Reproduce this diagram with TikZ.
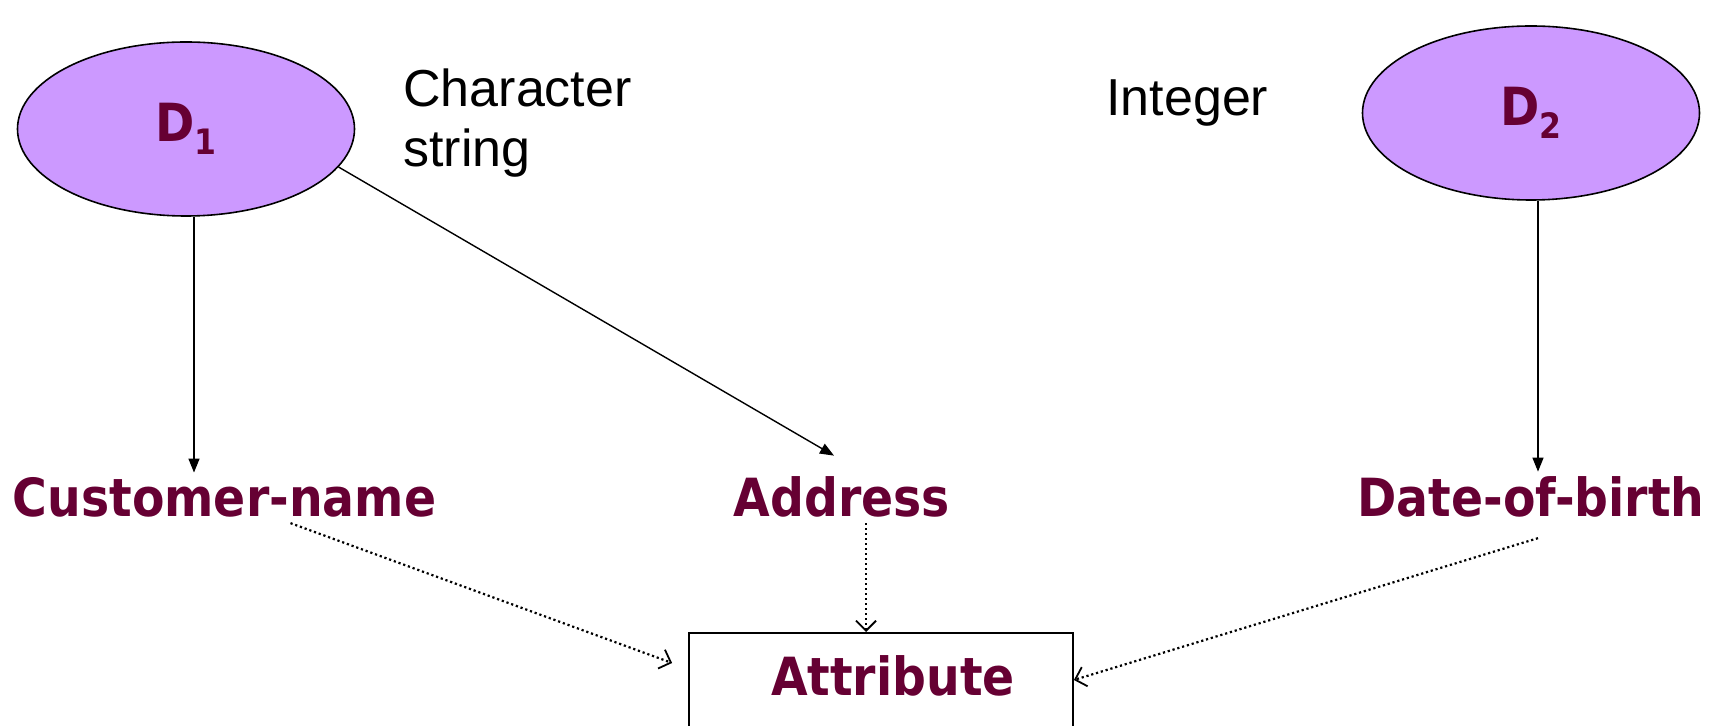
\documentclass[tikz,border=0pt]{standalone}
\usepackage{fontspec}
\setmainfont{Liberation Sans}
\newfontfamily\lblfont{DejaVu Sans Condensed}
\usetikzlibrary{shapes.geometric,arrows.meta}
\definecolor{domfill}{HTML}{CC99FF}
\definecolor{lblcol}{HTML}{660033}

\begin{document}
\begin{tikzpicture}[x=0.5pt, y=-0.5pt,
					domellipse/.style={ellipse, draw=black, line width=0.8pt, fill=domfill, inner sep=0pt,
						minimum width=168.5pt, minimum height=87pt, text=lblcol,
						font=\lblfont\bfseries\fontsize{26.3}{30}\selectfont},
					attrname/.style={text=lblcol, inner sep=2.5pt,
						font=\lblfont\bfseries\fontsize{26.3}{30}\selectfont},
					attrbox/.style={rectangle, draw=black, line width=0.9pt, minimum width=192pt,
						text height=25pt, text depth=40pt, inner ysep=6.5pt},
					plain/.style={font=\fontsize{26}{30}\selectfont, align=left, inner sep=0pt},
					typeof/.style={-{Triangle[length=7pt,width=5.5pt]}, line width=0.7pt},
					isa/.style={-{Straight Barb[length=5pt,width=10pt,line width=0.9pt]},
						line width=1.1pt, dash pattern=on 1.1pt off 1.4pt}
					]
					\useasboundingbox (0,0) rectangle (1721,726);
					\node[domellipse] (D1) at (186,129) {D\raisebox{-6.5pt}{\fontsize{17.5}{18}\selectfont 1}};
					\node[domellipse] (D2) at (1531,113) {D\raisebox{-6.5pt}{\fontsize{17.5}{18}\selectfont 2}};
					\node[plain, anchor=north west] (chr) at (403,68) {Character\\string};
					\node[plain, anchor=base west] (int) at (1106,116) {Integer};
					\node[attrname, anchor=base] (cn) at (224.5,517) {Customer-name};
					\node[attrname, anchor=base] (ad) at (842,517) {Address};
					\node[attrname, anchor=base] (db) at (1531,517) {Date-of-birth};
					\node[attrname, attrbox, anchor=north] (attr) at (881,632) {\hspace*{12pt}Attribute};
					\draw[typeof] ([xshift=4pt]D1.south) -- ([xshift=4pt]D1.south |- cn.north);
					\draw[typeof] (D1.-14) -- ([xshift=-4pt,yshift=8pt]ad.north);
					\draw[typeof] ([xshift=3.5pt]D2.south) -- ([xshift=3.5pt]D2.south |- db.north);
					\draw[isa] ([xshift=33pt]cn.south) -- ([xshift=-8pt,yshift=-15.5pt]attr.north west);
					\draw[isa] ([xshift=12pt]ad.south) -- ([xshift=12pt]ad.south |- attr.north);
					\draw[isa] ([xshift=3.5pt,yshift=-7.5pt]db.south) -- ([yshift=-24pt]attr.north east);
				\end{tikzpicture}
\end{document}
